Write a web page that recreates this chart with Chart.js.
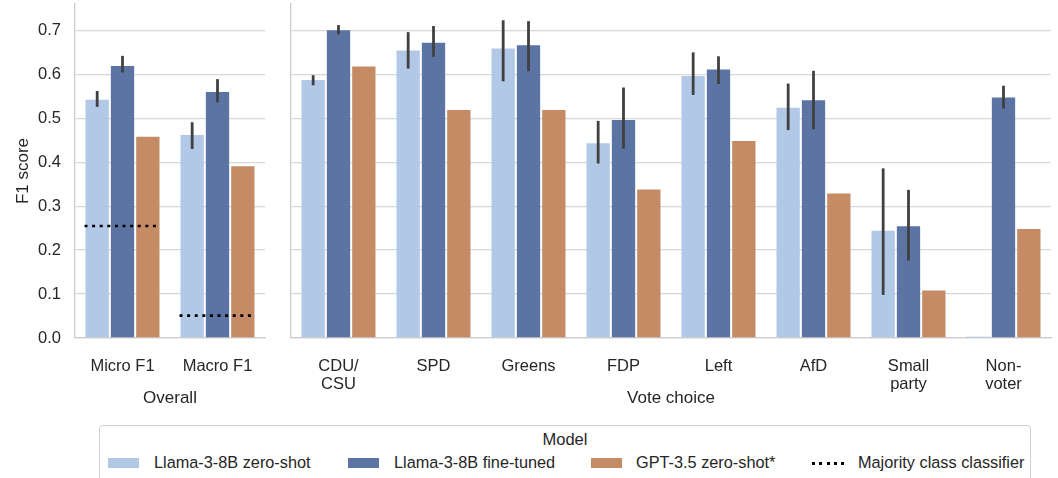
<!DOCTYPE html>
<html>
<head>
<meta charset="utf-8">
<script src="https://cdn.jsdelivr.net/npm/chart.js@4.4.1/dist/chart.umd.min.js"></script>
<style>
  html, body { margin: 0; padding: 0; background: #fff; }
  body { width: 1058px; height: 478px; position: relative; overflow: hidden; font-family: "Liberation Sans", Arial, sans-serif; color: #262626; }
  #c1 { position: absolute; left: 0; top: 0; }
  #c2 { position: absolute; left: 280px; top: 0; }
  #legend { position: absolute; left: 99px; top: 425px; width: 932px; height: 70px; border: 1px solid #d0d0d0; border-radius: 4px; box-sizing: border-box; }
  #legend .title { position: absolute; left: 0; right: 0; top: 4px; text-align: center; font-size: 16.5px; }
  #legend .item { position: absolute; top: 27px; font-size: 16.3px; white-space: nowrap; }
  #legend .sw { position: absolute; top: 32px; width: 31px; height: 10px; }
  #legend .dots { position: absolute; top: 36px; width: 34px; height: 2.6px; background: repeating-linear-gradient(to right, #000 0 3px, transparent 3px 7.3px); }
</style>
</head>
<body>
<canvas id="c1" width="270" height="420"></canvas>
<canvas id="c2" width="778" height="420"></canvas>
<div id="legend"></div>
<script>
// ---- data ----
const overallCats = ["Micro F1", "Macro F1"];
const voteCats = [["CDU/", "CSU"], "SPD", "Greens", "FDP", "Left", "AfD", ["Small", "party"], ["Non-", "voter"]];
const seriesNames = ["Llama-3-8B zero-shot", "Llama-3-8B fine-tuned", "GPT-3.5 zero-shot*"];
const majorityLabel = "Majority class classifier";

const overallZero   = [0.542, 0.462];
const overallZeroLo = [0.526, 0.430];
const overallZeroHi = [0.562, 0.491];
const overallFT     = [0.619, 0.560];
const overallFTLo   = [0.604, 0.536];
const overallFTHi   = [0.642, 0.589];
const overallGPT    = [0.458, 0.391];
const overallMajority = [0.255, 0.051];

const voteZero   = [0.587, 0.654, 0.659, 0.443, 0.596, 0.524, 0.244, 0.003];
const voteZeroLo = [0.575, 0.613, 0.584, 0.397, 0.553, 0.473, 0.098, null];
const voteZeroHi = [0.598, 0.696, 0.723, 0.494, 0.650, 0.579, 0.386, null];
const voteFT     = [0.700, 0.672, 0.666, 0.496, 0.611, 0.541, 0.254, 0.547];
const voteFTLo   = [0.691, 0.640, 0.607, 0.431, 0.578, 0.475, 0.176, 0.522];
const voteFTHi   = [0.712, 0.710, 0.721, 0.570, 0.641, 0.608, 0.337, 0.574];
const voteGPT    = [0.618, 0.519, 0.519, 0.338, 0.448, 0.329, 0.108, 0.248];

const yTicks = [0, 0.1, 0.2, 0.3, 0.4, 0.5, 0.6, 0.7];

// ---- style ----
const FONT = "'Liberation Sans', Arial, sans-serif";
const colors = ["#b1c8e7", "#5b74a3", "#c48b65"];
const gridColor = "#d8d8d8";
const textColor = "#262626";

function keepTicks(scale) {
  scale.ticks = yTicks.map(v => ({ value: v }));
}

const errorBarPlugin = {
  id: "errorBars",
  afterDatasetsDraw(chart, args, opts) {
    const ctx = chart.ctx;
    const y = chart.scales.y;
    ctx.save();
    ctx.strokeStyle = "#404040";
    ctx.lineWidth = 2.8;
    ctx.lineCap = "butt";
    chart.data.datasets.forEach((ds, di) => {
      if (!ds.lo) return;
      const meta = chart.getDatasetMeta(di);
      meta.data.forEach((bar, i) => {
        if (ds.lo[i] == null) return;
        ctx.beginPath();
        ctx.moveTo(bar.x, y.getPixelForValue(ds.lo[i]));
        ctx.lineTo(bar.x, y.getPixelForValue(ds.hi[i]));
        ctx.stroke();
      });
    });
    // majority lines
    if (opts && opts.majority) {
      const m0 = chart.getDatasetMeta(0), m2 = chart.getDatasetMeta(2);
      ctx.strokeStyle = "#000";
      ctx.lineWidth = 2.6;
      ctx.setLineDash([3, 4.6]);
      opts.majority.forEach((v, i) => {
        const b0 = m0.data[i], b2 = m2.data[i];
        const x0 = b0.x - b0.width / 2 - 1, x1 = b2.x + b2.width / 2 + 1;
        const py = y.getPixelForValue(v);
        ctx.beginPath();
        ctx.moveTo(x0, py);
        ctx.lineTo(x1, py);
        ctx.stroke();
      });
    }
    ctx.restore();
  }
};

function makeDatasets(z, zl, zh, f, fl, fh, g) {
  return [
    { label: seriesNames[0], data: z, lo: zl, hi: zh, backgroundColor: colors[0] },
    { label: seriesNames[1], data: f, lo: fl, hi: fh, backgroundColor: colors[1] },
    { label: seriesNames[2], data: g, backgroundColor: colors[2] }
  ].map(d => Object.assign(d, { categoryPercentage: 0.8, barPercentage: 0.92, borderWidth: 0 }));
}

function makeOptions(cfg) {
  return {
    responsive: false,
    animation: false,
    layout: { padding: { top: 4, right: cfg.padRight, left: 0, bottom: 0 } },
    plugins: {
      legend: { display: false },
      tooltip: { enabled: false },
      errorBars: { majority: cfg.majority || null }
    },
    scales: {
      x: {
        grid: { display: false },
        border: { display: true, color: "#cccccc", width: 1.3 },
        ticks: { color: textColor, font: { family: FONT, size: 16.5, lineHeight: 1.1 }, padding: 11, maxRotation: 0, autoSkip: false },
        title: { display: true, text: cfg.xTitle, color: textColor, font: { family: FONT, size: 17 }, padding: { top: 0, bottom: 11 } },
        afterFit: s => { s.height = 82; s.paddingLeft = 0; s.paddingRight = 0; }
      },
      y: {
        min: 0, max: 0.76,
        afterBuildTicks: keepTicks,
        grid: { color: gridColor, lineWidth: 1.3, drawTicks: false },
        border: { display: true, color: "#cccccc", width: 1.3 },
        ticks: {
          display: cfg.showY,
          color: textColor,
          font: { family: FONT, size: 16.5 },
          padding: 14,
          callback: v => Number(v).toFixed(1)
        },
        title: { display: cfg.showY, text: "F1 score", color: textColor, font: { family: FONT, size: 17 }, padding: { top: 13, bottom: 0 } },
        afterFit: s => { s.width = cfg.yWidth; s.paddingTop = 0; s.paddingBottom = 0; }
      }
    }
  };
}

new Chart(document.getElementById("c1"), {
  type: "bar",
  data: { labels: overallCats, datasets: makeDatasets(overallZero, overallZeroLo, overallZeroHi, overallFT, overallFTLo, overallFTHi, overallGPT) },
  options: makeOptions({ padRight: 5, xTitle: "Overall", showY: true, yWidth: 75, majority: overallMajority }),
  plugins: [errorBarPlugin]
});

new Chart(document.getElementById("c2"), {
  type: "bar",
  data: { labels: voteCats, datasets: makeDatasets(voteZero, voteZeroLo, voteZeroHi, voteFT, voteFTLo, voteFTHi, voteGPT) },
  options: makeOptions({ padRight: 7, xTitle: "Vote choice", showY: false, yWidth: 11 }),
  plugins: [errorBarPlugin]
});

// ---- legend (HTML text built from the series names) ----
const legend = document.getElementById("legend");
legend.innerHTML = '<div class="title">Model</div>';
const swX = [8, 248, 491];
const txX = [54, 294, 536];
seriesNames.forEach((n, i) => {
  const sw = document.createElement("div");
  sw.className = "sw"; sw.style.left = swX[i] + "px"; sw.style.background = colors[i];
  legend.appendChild(sw);
  const t = document.createElement("div");
  t.className = "item"; t.style.left = txX[i] + "px"; t.textContent = n;
  legend.appendChild(t);
});
const dots = document.createElement("div");
dots.className = "dots"; dots.style.left = "712px";
legend.appendChild(dots);
const mt = document.createElement("div");
mt.className = "item"; mt.style.left = "758px"; mt.textContent = majorityLabel;
legend.appendChild(mt);
</script>
</body>
</html>
